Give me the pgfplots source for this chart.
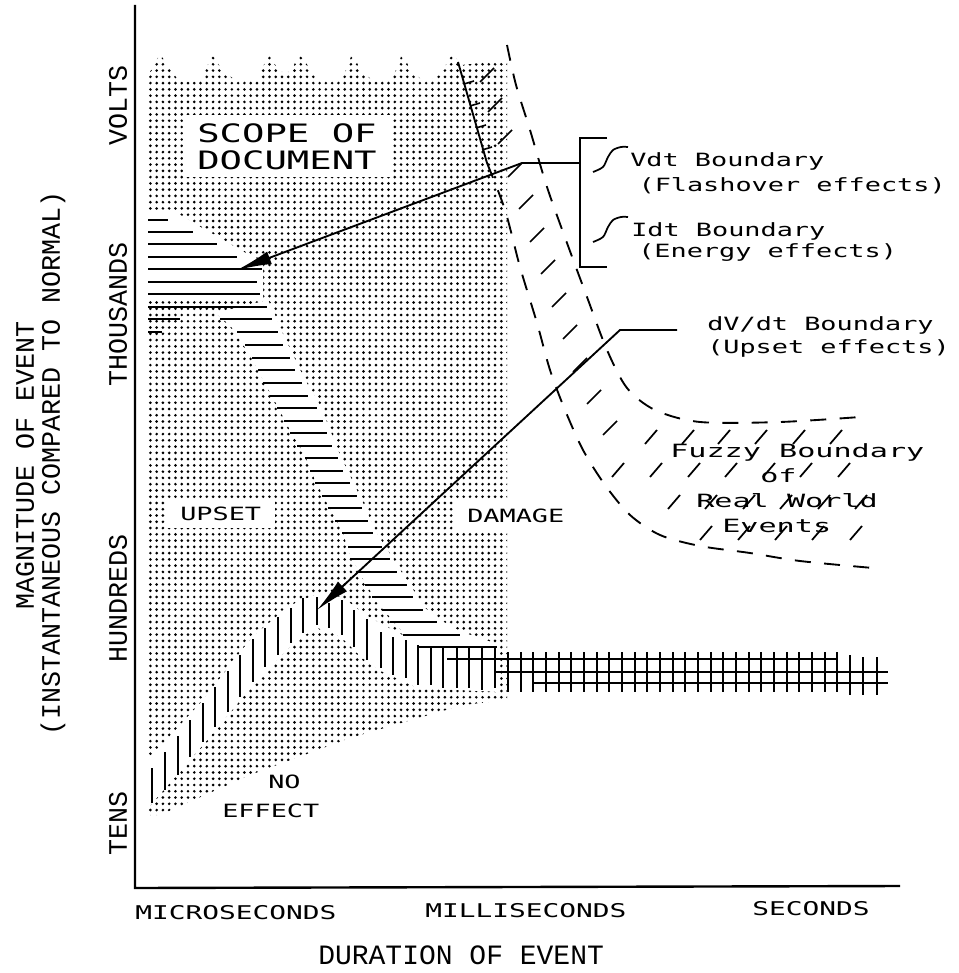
\documentclass[border=0pt]{standalone}
\usepackage{pgfplots}
\pgfplotsset{compat=1.18}
\usepackage{fontspec}
\setmainfont{Liberation Mono}
\newfontfamily\nfont{Liberation Mono}
\newfontfamily\wfont[FakeStretch=1.47]{DejaVu Sans Mono}
\newfontfamily\wwfont[FakeStretch=1.65]{DejaVu Sans Mono}
\usetikzlibrary{patterns.meta,arrows.meta}
\newcommand\wt{\wfont\fontsize{13.7}{13.7}\selectfont}
\newcommand\wtt{\wfont\fontsize{14.2}{14.2}\selectfont}
\newcommand\wbig{\wfont\fontsize{19}{19}\selectfont}
\newcommand\wfz{\wwfont\fontsize{13.7}{13.7}\selectfont}
\newcommand\nt{\nfont\fontsize{20}{20}\selectfont}
\newcommand\ntt{\nfont\fontsize{21}{21}\selectfont}
\begin{document}
\begin{tikzpicture}
\begin{axis}[
  width=718.5pt, height=729.75pt, scale only axis,
  xmin=0, xmax=958, ymin=0, ymax=973, y dir=reverse,
  hide axis, clip=false,
]
% frame for bounding box
\addplot[draw=none] coordinates {(0,0) (958,973)};

% dotted "scope" region
\addplot[draw=none, pattern={Dots[distance=4.7pt, radius=1.1pt]}, pattern color=black] coordinates {
(148,815) (148,82) (150,72) (160,54) (172,72) (180,82) (200,82) (205,72) (212,54) (222,70) (235,80)
(258,80) (268,54) (280,72) (290,72) (300,54) (312,72) (320,82) (342,80) (352,54) (362,72) (375,82)
(392,80) (402,54) (412,72) (425,82) (440,75) (452,54) (462,65) (507,60) (507,700) (463,705) (350,738)
(250,775) (160,815)};

% white cut-outs
\addplot[draw=none, fill=white] coordinates {(183,115) (393,115) (393,177) (183,177)};
\addplot[draw=none, fill=white] coordinates {(167,500) (275,500) (275,528) (167,528)};
\addplot[draw=none, fill=white] coordinates {(455,500) (510,500) (510,530) (455,530)};
\addplot[draw=none, fill=white] coordinates {(148,210) (172,210) (197,225) (220,238) (240,250) (263,262) (263,300) (148,300)};
\addplot[draw=none, fill=white] coordinates {
(215,313) (230,325) (240,340) (250,355) (263,380) (277,405) (290,430) (305,455) (315,480) (328,505)
(342,530) (350,555) (365,583) (382,608) (403,632) (418,645) (500,645) (462,632) (440,620) (425,608)
(410,585) (400,570) (392,557) (384,545) (375,530) (364,505) (352,480) (340,455) (330,430) (320,405)
(305,380) (293,355) (281,330) (275,315) (268,300)};
\addplot[draw=none, fill=white] coordinates {
(148,760) (203,700) (253,636) (291,605) (317,594) (342,597) (367,616) (406,637) (500,644)
(500,692) (418,688) (381,671) (367,662) (354,650) (342,638) (329,631) (317,628) (303,636) (291,646)
(253,685) (203,745) (148,808)};

% horizontal hatch band
\addplot[black, line width=1.6pt, unbounded coords=jump] coordinates {
(148,220) (168,220) (nan,nan) (148,232) (193,232) (nan,nan) (148,244) (217,244) (nan,nan)
(148,257) (237,257) (nan,nan) (148,269) (262,269) (nan,nan) (148,282) (257,282) (nan,nan)
(148,294) (260,294) (nan,nan) (148,307) (267,307) (nan,nan) (148,319) (180,319) (nan,nan)
(220,319) (272,319) (nan,nan) (148,332) (162,332) (nan,nan) (237,332) (278,332) (nan,nan)
(245,345) (283,345) (nan,nan) (252,358) (290,358) (nan,nan) (258,370) (295,370) (nan,nan)
(263,383) (302,383) (nan,nan) (270,396) (308,396) (nan,nan) (277,408) (317,408) (nan,nan)
(284,421) (323,421) (nan,nan) (290,433) (327,433) (nan,nan) (297,446) (332,446) (nan,nan)
(305,458) (338,458) (nan,nan) (310,471) (343,471) (nan,nan) (315,483) (350,483) (nan,nan)
(322,496) (357,496) (nan,nan) (328,508) (362,508) (nan,nan) (335,521) (368,521) (nan,nan)
(342,533) (373,533) (nan,nan) (348,547) (382,547) (nan,nan) (350,559) (390,559) (nan,nan)
(357,572) (397,572) (nan,nan) (365,585) (407,585) (nan,nan) (372,597) (413,597) (nan,nan)
(382,610) (423,610) (nan,nan) (390,622) (437,622) (nan,nan) (403,635) (460,635) (nan,nan)
(418,647) (497,647)};

% vertical hatch band and cross-hatch
\addplot[black, line width=1.6pt, unbounded coords=jump] coordinates {
(152,768) (152,803) (nan,nan) (165,752) (165,790) (nan,nan) (178,736) (178,775) (nan,nan)
(190,720) (190,757) (nan,nan) (203,703) (203,742) (nan,nan) (215,687) (215,727) (nan,nan)
(228,671) (228,712) (nan,nan) (240,655) (240,697) (nan,nan) (253,639) (253,682) (nan,nan)
(265,628) (265,667) (nan,nan) (278,617) (278,655) (nan,nan) (291,608) (291,643) (nan,nan)
(303,598) (303,633) (nan,nan) (317,597) (317,625) (nan,nan) (329,603) (329,628) (nan,nan)
(342,600) (342,635) (nan,nan) (354,610) (354,647) (nan,nan) (367,619) (367,660) (nan,nan)
(381,632) (381,668) (nan,nan) (393,637) (393,675) (nan,nan) (406,640) (406,678) (nan,nan)
(418,645) (418,685) (nan,nan) (431,648) (431,685) (nan,nan) (443,648) (443,688) (nan,nan)
(457,648) (457,688) (nan,nan) (469,648) (469,688) (nan,nan) (482,648) (482,690) (nan,nan)
(495,648) (495,688) (nan,nan) (508,652) (508,692) (nan,nan) (521,652) (521,692) (nan,nan)
(533,652) (533,692) (nan,nan) (546,652) (546,692) (nan,nan) (559,652) (559,692) (nan,nan)
(571,652) (571,692) (nan,nan) (584,652) (584,692) (nan,nan) (597,652) (597,692) (nan,nan)
(609,652) (609,692) (nan,nan) (622,652) (622,692) (nan,nan) (635,652) (635,692) (nan,nan)
(647,652) (647,692) (nan,nan) (660,652) (660,692) (nan,nan) (673,652) (673,692) (nan,nan)
(685,652) (685,692) (nan,nan) (698,652) (698,692) (nan,nan) (711,652) (711,692) (nan,nan)
(723,652) (723,692) (nan,nan) (736,652) (736,692) (nan,nan) (749,652) (749,692) (nan,nan)
(761,652) (761,692) (nan,nan) (774,652) (774,692) (nan,nan) (787,652) (787,692) (nan,nan)
(799,652) (799,692) (nan,nan) (812,652) (812,692) (nan,nan) (825,652) (825,692) (nan,nan)
(837,652) (837,692) (nan,nan) (850,655) (850,695) (nan,nan) (863,657) (863,695) (nan,nan)
(877,657) (877,695) (nan,nan)
(447,659) (837,659) (nan,nan) (495,672) (888,672) (nan,nan) (533,683) (888,683)};

% fuzzy boundary
\addplot[black, line width=1.4pt, smooth, dash pattern=on 12pt off 10pt] coordinates {
(507,45) (516,85) (530,130) (547,187) (567,243) (587,297) (607,350) (627,388) (655,410) (700,422) (780,422) (860,417)};
\addplot[black, line width=1.4pt] coordinates {(458,62) (487,163)};
\addplot[black, line width=1.2pt, unbounded coords=jump] coordinates {
(464,84) (474,81) (nan,nan) (470,106) (480,103) (nan,nan) (476,128) (486,125) (nan,nan) (482,150) (492,147)};
\addplot[black, line width=1.4pt, smooth, dash pattern=on 12pt off 10pt] coordinates {
(487,163) (505,210) (520,267) (537,323) (550,370) (565,410) (583,450) (605,485) (630,515) (660,535) (700,546) (750,553) (800,561) (873,568)};
\addplot[black, line width=1.3pt, unbounded coords=jump] coordinates {
(480,82) (494,68) (nan,nan) (488,112) (502,98) (nan,nan) (498,144) (512,130) (nan,nan)
(508,177) (522,163) (nan,nan) (519,209) (533,195) (nan,nan) (530,242) (544,228) (nan,nan)
(541,274) (555,260) (nan,nan) (552,307) (566,293) (nan,nan) (563,339) (577,325) (nan,nan)
(573,372) (587,358) (nan,nan) (587,404) (601,390) (nan,nan) (603,435) (617,421) (nan,nan)
(645,444) (657,430) (nan,nan) (682,444) (694,430) (nan,nan) (718,444) (730,430) (nan,nan)
(755,444) (767,430) (nan,nan) (793,444) (805,430) (nan,nan) (830,444) (842,430) (nan,nan)
(612,477) (624,463) (nan,nan) (650,477) (662,463) (nan,nan) (688,477) (700,463) (nan,nan)
(725,477) (737,463) (nan,nan) (763,477) (775,463) (nan,nan) (800,477) (812,463) (nan,nan)
(838,477) (850,463) (nan,nan)
(668,509) (680,495) (nan,nan) (705,509) (717,495) (nan,nan) (743,509) (755,495) (nan,nan)
(780,509) (792,495) (nan,nan) (818,509) (830,495) (nan,nan) (855,509) (867,495) (nan,nan)
(700,540) (712,526) (nan,nan) (738,540) (750,526) (nan,nan) (775,540) (787,526) (nan,nan)
(812,540) (824,526) (nan,nan) (850,540) (862,526)};

% bracket and integral signs
\addplot[black, line width=1.4pt] coordinates {(607,138) (580,138) (580,267) (607,267)};
\addplot[black, line width=1.3pt, smooth] coordinates {(593,172) (603,167) (608,157) (613,150) (621,147) (628,147)};
\addplot[black, line width=1.3pt, smooth] coordinates {(593,242) (603,237) (608,227) (613,220) (621,217) (628,217)};

% leader arrows
\addplot[black, line width=1.4pt, -{Latex[length=26pt,width=10pt]}] coordinates {(580,163) (522,163) (237,270)};
\addplot[black, line width=1.4pt, -{Latex[length=26pt,width=10pt]}] coordinates {(677,330) (620,330) (317,610)};

% axes
\addplot[black, line width=1.8pt] coordinates {(135,5) (135,888) (900,886)};

% texts in plot
\node[anchor=base west, inner sep=0pt, font=\wbig] at (axis cs:197,143) {SCOPE OF};
\node[anchor=base west, inner sep=0pt, font=\wbig] at (axis cs:197,170) {DOCUMENT};
\node[anchor=base west, inner sep=0pt, font=\wt] at (axis cs:180,520) {UPSET};
\node[anchor=base west, inner sep=0pt, font=\wt] at (axis cs:467,522) {DAMAGE};
\node[anchor=base west, inner sep=0pt, font=\wt] at (axis cs:268,788) {NO};
\node[anchor=base west, inner sep=0pt, font=\wt] at (axis cs:222,817) {EFFECT};
\node[anchor=base west, inner sep=0pt, font=\wt] at (axis cs:630,167) {Vdt Boundary};
\node[anchor=base east, inner sep=0pt, font=\wt] at (axis cs:946,192) {(Flashover effects)};
\node[anchor=base west, inner sep=0pt, font=\wt] at (axis cs:631,237) {Idt Boundary};
\node[anchor=base west, inner sep=0pt, font=\wt] at (axis cs:638,258) {(Energy effects)};
\node[anchor=base west, inner sep=0pt, font=\wt] at (axis cs:707,330) {dV/dt Boundary};
\node[anchor=base east, inner sep=0pt, font=\wt] at (axis cs:950,353) {(Upset effects)};
\node[anchor=base west, inner sep=0pt, font=\wfz] at (axis cs:670,457) {Fuzzy Boundary};
\node[anchor=base west, inner sep=0pt, font=\wfz] at (axis cs:760,482) {of};
\node[anchor=base west, inner sep=0pt, font=\wfz] at (axis cs:696,507) {Real World};
\node[anchor=base west, inner sep=0pt, font=\wfz] at (axis cs:722,532) {Events};

% axis category labels
\node[anchor=base west, inner sep=0pt, font=\wtt] at (axis cs:135,919) {MICROSECONDS};
\node[anchor=base west, inner sep=0pt, font=\wtt] at (axis cs:425,917) {MILLISECONDS};
\node[anchor=base west, inner sep=0pt, font=\wtt] at (axis cs:752,915) {SECONDS};
\node[anchor=base west, inner sep=0pt, font=\ntt] at (axis cs:318,964) {DURATION OF EVENT};
\node[rotate=90, inner sep=0pt, font=\nt] at (axis cs:118,105) {VOLTS};
\node[rotate=90, inner sep=0pt, font=\nt] at (axis cs:118,314) {THOUSANDS};
\node[rotate=90, inner sep=0pt, font=\nt] at (axis cs:118,598) {HUNDREDS};
\node[rotate=90, inner sep=0pt, font=\nt] at (axis cs:118,823) {TENS};
\node[rotate=90, inner sep=0pt, font=\nt] at (axis cs:25,465) {MAGNITUDE OF EVENT};
\node[rotate=90, inner sep=0pt, font=\nt] at (axis cs:53,463) {(INSTANTANEOUS COMPARED TO NORMAL)};
\end{axis}
\end{tikzpicture}
\end{document}
